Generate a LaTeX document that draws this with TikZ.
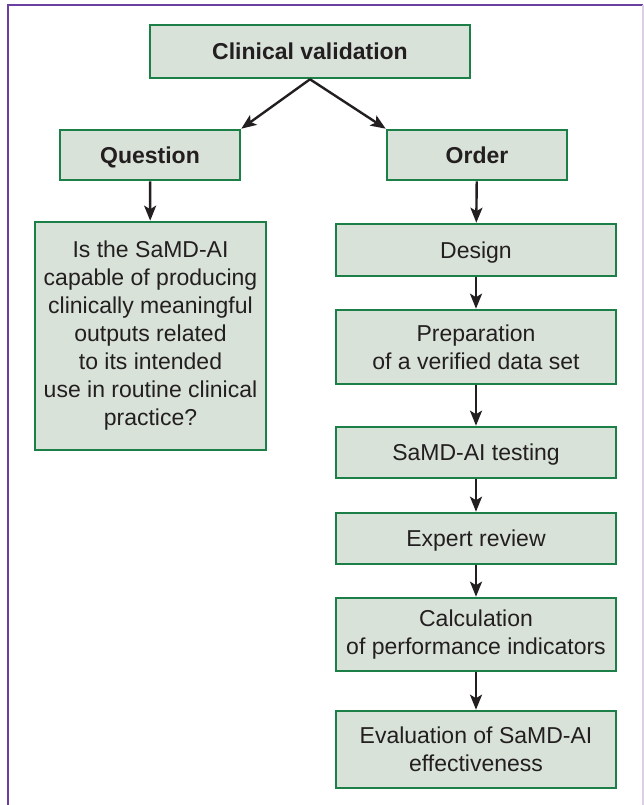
\documentclass[tikz,border=0pt]{standalone}
\usepackage{fontspec}
\setmainfont{Liberation Sans}
\usetikzlibrary{arrows.meta}

\definecolor{boxfill}{HTML}{D8E2D8}
\definecolor{boxline}{HTML}{1B7F47}
\definecolor{frameline}{HTML}{6B3FA0}
\definecolor{ink}{HTML}{231F20}

\begin{document}
\begin{tikzpicture}[x=1pt,y=1pt,
	box/.style={draw=boxline,fill=boxfill,line width=2.6pt,inner sep=0pt,align=center,
		text=ink,font=\fontsize{23}{28}\selectfont},
	oneline/.style={box,text height=22pt,text depth=5pt},
	head/.style={oneline,font=\fontsize{23}{28}\selectfont\bfseries},
	arr/.style={draw=ink,line width=2.4pt,-{Stealth[length=15pt,width=12pt,inset=3.5pt]}}]
	
	\useasboundingbox (0,0) rectangle (644,805);
	
	% frame
	\draw[frameline,line width=2.5pt] (8,0) -- (8,800) -- (643,800);
	\draw[frameline!25,line width=1.5pt] (643,800) -- (643,0);
	
	% top
	\node[head,minimum width=320pt,minimum height=53pt] (valid) at (310,753.5) {Clinical validation};
	\node[head,minimum width=180pt,minimum height=50pt] (quest) at (150,650) {Question};
	\node[head,minimum width=180pt,minimum height=50pt] (order) at (477,650) {Order};
	
	% question
	\node[box,minimum width=231pt,minimum height=228pt] (qtext) at (150.5,469)
		{Is the SaMD-AI\\capable of producing\\clinically meaningful\\outputs related\\to its intended\\use in routine clinical\\practice?};
	
	% order steps
	\node[oneline,minimum width=280pt,minimum height=52pt] (design) at (476,555) {Design};
	\node[box,minimum width=280pt,minimum height=74pt] (prep)   at (476,458) {Preparation\\of a verified data set};
	\node[oneline,minimum width=280pt,minimum height=51pt] (test)   at (476,352.5) {SaMD-AI testing};
	\node[oneline,minimum width=280pt,minimum height=51pt] (review) at (476,266.5) {Expert review};
	\node[box,minimum width=280pt,minimum height=73pt] (calc)   at (476,170.5) {Calculation\\of performance indicators};
	\node[box,minimum width=280pt,minimum height=77pt] (eval)   at (476,55.5) {Evaluation of SaMD-AI\\effectiveness};
	
	%arrows
	\draw[arr] (valid.south) -- (quest.north east);
	\draw[arr] (valid.south) -- (order.north west);
	\draw[arr] (quest) -- (qtext);
	\draw[arr] (order) -- (design);
	\draw[arr] (design) -- (prep);
	\draw[arr] (prep) -- (test);
	\draw[arr] (test) -- (review);
	\draw[arr] (review) -- (calc);
	\draw[arr] (calc) -- (eval);
\end{tikzpicture}
\end{document}
